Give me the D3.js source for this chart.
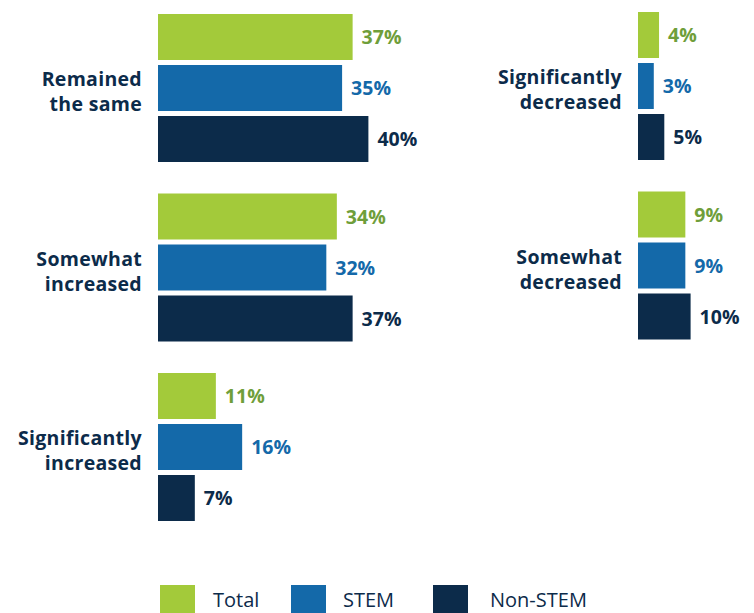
<!DOCTYPE html>
<html><head><meta charset="utf-8">
<script src="https://cdn.jsdelivr.net/npm/d3@7"></script>
<style>
html,body{margin:0;padding:0;background:#fff;}
svg{display:block;}
</style></head>
<body>
<script>
const series = ["Total", "STEM", "Non-STEM"];
const leftCategories = [["Remained", "the same"], ["Somewhat", "increased"], ["Significantly", "increased"]];
const leftTotal = [37, 34, 11];
const leftStem = [35, 32, 16];
const leftNonStem = [40, 37, 7];
const rightCategories = [["Significantly", "decreased"], ["Somewhat", "decreased"]];
const rightTotal = [4, 9];
const rightStem = [3, 9];
const rightNonStem = [5, 10];

const barColors = {"Total": "#a3ca3a", "STEM": "#1469a9", "Non-STEM": "#0c2b4a"};
const labelColors = {"Total": "#6f9e3a", "STEM": "#1469a9", "Non-STEM": "#0c2b4a"};
const font = "'Open Sans', sans-serif";

const W = 754, H = 613;
const svg = d3.select("body").append("svg").attr("width", W).attr("height", H);

const x = d3.scaleLinear().domain([0, 1]).range([0, 5.26]);

function panel(cats, tot, stem, non, x0, yTop, yBottom) {
  const keys = cats.map(c => c.join(" "));
  const y0 = d3.scaleBand().domain(keys).range([yTop, yBottom]).paddingInner(31.5 / 179.5).paddingOuter(0);
  const y1 = d3.scaleBand().domain(series).range([0, y0.bandwidth()]).paddingInner(5 / 51);
  const g = svg.append("g").attr("transform", `translate(${x0},0)`);
  cats.forEach((c, i) => {
    const key = keys[i];
    const vals = [tot[i], stem[i], non[i]];
    const gg = g.append("g").attr("transform", `translate(0,${y0(key)})`);
    series.forEach((s, j) => {
      gg.append("rect").attr("x", 0).attr("y", y1(s))
        .attr("width", x(vals[j])).attr("height", y1.bandwidth())
        .attr("fill", barColors[s]);
      gg.append("text").attr("x", x(vals[j]) + 9).attr("y", y1(s) + y1.bandwidth() / 2)
        .attr("dy", "0.36em").attr("fill", labelColors[s])
        .style("font-family", font).style("font-weight", 700).style("font-size", "19.5px")
        .text(vals[j] + "%");
    });
    const cy = y0.bandwidth() / 2;
    const t = gg.append("text").attr("text-anchor", "end")
      .attr("fill", "#0c2b4a").style("font-family", font).style("font-weight", 700)
      .style("font-size", "19.5px").style("letter-spacing", "0.3px");
    c.forEach((line, k) => {
      t.append("tspan").attr("x", -16).attr("y", cy - 9 + k * 25).attr("dy", "0.36em").text(line);
    });
  });
}

panel(leftCategories, leftTotal, leftStem, leftNonStem, 158, 14, 521);
panel(rightCategories, rightTotal, rightStem, rightNonStem, 638, 12, 339.5);

const legendX = [160, 291, 433];
const legendTextX = [213, 343, 490];
const leg = svg.append("g");
series.forEach((s, i) => {
  leg.append("rect").attr("x", legendX[i]).attr("y", 585).attr("width", 35).attr("height", 30).attr("fill", barColors[s]);
  leg.append("text").attr("x", legendTextX[i]).attr("y", 607).attr("fill", "#0c2b4a")
    .style("font-family", font).style("font-size", "20px").text(s);
});
</script>
</body></html>
